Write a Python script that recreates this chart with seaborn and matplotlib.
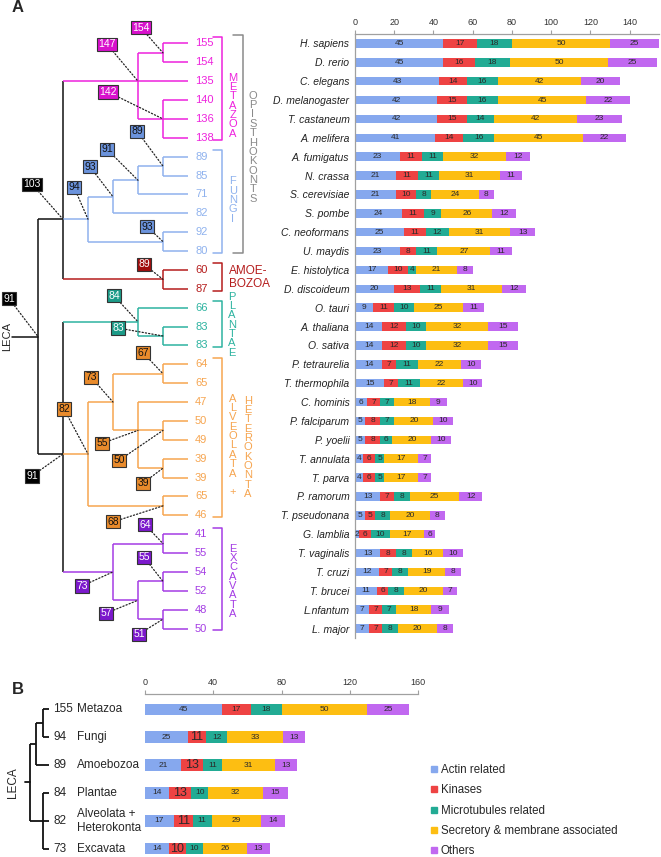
import numpy as np
import pandas as pd
import seaborn as sns
import matplotlib.pyplot as plt
from matplotlib.lines import Line2D

# ---- panel A data ----
species = ["H. sapiens", "D. rerio", "C. elegans", "D. melanogaster", "T. castaneum", "A. melifera",
           "A. fumigatus", "N. crassa", "S. cerevisiae", "S. pombe", "C. neoformans", "U. maydis",
           "E. histolytica", "D. discoideum", "O. tauri", "A. thaliana", "O. sativa",
           "P. tetraurelia", "T. thermophila", "C. hominis", "P. falciparum", "P. yoelii",
           "T. annulata", "T. parva", "P. ramorum", "T. pseudonana",
           "G. lamblia", "T. vaginalis", "T. cruzi", "T. brucei", "L.nfantum", "L. major"]
actin = [45, 45, 43, 42, 42, 41, 23, 21, 21, 24, 25, 23, 17, 20, 9, 14, 14,
         14, 15, 6, 5, 5, 4, 4, 13, 5, 2, 13, 12, 11, 7, 7]
kinases = [17, 16, 14, 15, 15, 14, 11, 11, 10, 11, 11, 8, 10, 13, 11, 12, 12,
           7, 7, 7, 8, 8, 6, 6, 7, 5, 6, 8, 7, 6, 7, 7]
microtubules = [18, 18, 16, 16, 14, 16, 11, 11, 8, 9, 12, 11, 4, 11, 10, 10, 10,
                11, 11, 7, 7, 6, 5, 5, 8, 8, 10, 8, 8, 8, 7, 8]
secretory = [50, 50, 42, 45, 42, 45, 32, 31, 24, 26, 31, 27, 21, 31, 25, 32, 32,
             22, 22, 18, 20, 20, 17, 17, 25, 20, 17, 16, 19, 20, 18, 20]
others = [25, 25, 20, 22, 23, 22, 12, 11, 8, 12, 13, 11, 8, 12, 11, 15, 15,
          10, 10, 9, 10, 10, 7, 7, 12, 8, 6, 10, 8, 7, 9, 8]

# ---- panel B data ----
groups = ["Metazoa", "Fungi", "Amoebozoa", "Plantae", "Alveolata +\nHeterokonta", "Excavata"]
g_actin = [45, 25, 21, 14, 17, 14]
g_kinases = [17, 11, 13, 13, 11, 10]
g_micro = [18, 12, 11, 10, 11, 10]
g_secretory = [50, 33, 31, 32, 29, 26]
g_others = [25, 13, 13, 15, 14, 13]

categories = ["Actin related", "Kinases", "Microtubules related",
              "Secretory & membrane associated", "Others"]
cat_colors = ["#86a8ee", "#ee4343", "#22ab94", "#fdbe12", "#c168f0"]

# tree: (node value, clade, children); integers are rows of `species`
tree_a = (91, None, [
    (103, None, [
        (147, "Metazoa", [(154, "Metazoa", [0, 1]), 2, (142, "Metazoa", [3, 4, 5])]),
        (94, "Fungi", [(93, "Fungi", [(91, "Fungi", [(89, "Fungi", [6, 7]), 8]), 9]),
                       (93, "Fungi", [10, 11])]),
        (89, "Amoebozoa", [12, 13]),
    ]),
    (91, None, [
        (84, "Plantae", [14, (83, "Plantae", [15, 16])]),
        (82, "Alveolata", [(73, "Alveolata", [(67, "Alveolata", [17, 18]),
                                               (55, "Alveolata", [19, (50, "Alveolata", [20, 21]),
                                                                  (39, "Alveolata", [22, 23])])]),
                           (68, "Alveolata", [24, 25])]),
        (73, "Excavata", [(64, "Excavata", [26, 27]),
                          (57, "Excavata", [(55, "Excavata", [28, 29]), (51, "Excavata", [30, 31])])]),
    ]),
])
tree_b = (None, None, [(None, None, [(None, None, [0, 1]), 2]), (None, None, [3, 4, 5])])

clade_rows = {"Metazoa": (0, 5), "Fungi": (6, 11), "Amoebozoa": (12, 13), "Plantae": (14, 16),
              "Alveolata": (17, 25), "Excavata": (26, 31)}
line_col = {"Metazoa": "#ee22dd", "Fungi": "#8fb2ee", "Amoebozoa": "#b51d1d", "Plantae": "#2db3a0",
            "Alveolata": "#f6a550", "Excavata": "#a43ce4", None: "#111111"}
box_col = {"Metazoa": ("#d811cc", "white"), "Fungi": ("#6b93dc", "#111"), "Amoebozoa": ("#a00d0d", "white"),
           "Plantae": ("#1c9b88", "white"), "Alveolata": ("#e98b2c", "#111"), "Excavata": ("#7c19cc", "white"),
           None: ("#000000", "white")}
# pixel offsets of the value boxes, preorder
box_offsets = [(-29, -38), (-31, -35), (-31, -37), (-22, -25), (-55, -27), (-14, -32), (-23, -30),
               (-31, -31), (-26, -35), (-16, -15), (-19, -15), (-31, 22), (-24, -26), (-45, -8),
               (-24, -45), (-22, -25), (-20, -21), (-36, 13), (-44, 30), (-20, 15), (-50, 16),
               (-31, 14), (-18, -19), (-32, 13), (-19, -24), (-24, 15)]

sns.set_style("white")
plt.rcParams["font.family"] = ["Liberation Sans", "DejaVu Sans"]

W, H = 661, 857
fig = plt.figure(figsize=(W / 100, H / 100), dpi=100)


def rect(x0, y0, x1, y1):
    return [x0 / W, 1 - y1 / H, (x1 - x0) / W, (y1 - y0) / H]


def stacked(ax, names, cols, width, fs, big_kinase=None):
    df = pd.DataFrame(dict(zip(categories, cols)))
    cum = df.cumsum(axis=1)
    for c, col in reversed(list(zip(categories, cat_colors))):
        sns.barplot(x=cum[c].values, y=names, color=col, orient="h", width=width,
                    saturation=1, linewidth=0, errorbar=None, ax=ax)
    for i in range(len(df)):
        for k, c in enumerate(categories):
            v = df[c].iloc[i]
            size = fs
            if big_kinase is not None and k == 1 and big_kinase[i]:
                size = fs + 3
            ax.text(cum[c].iloc[i] - v / 2, i, str(v), ha="center", va="center",
                    fontsize=size, color="#2a2a2a")
    ax.set_xlabel("")
    ax.set_ylabel("")
    ax.xaxis.tick_top()
    for s in ["right", "bottom"]:
        ax.spines[s].set_visible(False)
    for s in ["top", "left"]:
        ax.spines[s].set_color("#a0a0a0")
        ax.spines[s].set_linewidth(0.9)
    ax.tick_params(axis="x", which="major", length=3, color="#a0a0a0", labelsize=6.5,
                   labelcolor="#333", pad=2)
    return df


def place(node):
    if isinstance(node, int):
        return dict(y=node, h=0, kids=[], leaf=True)
    val, clade, children = node
    kids = [place(c) for c in children]
    ys = sorted(k["y"] for k in kids)
    y = ys[len(ys) // 2] if len(ys) % 2 else np.mean([ys[0], ys[-1]])
    return dict(y=y, h=1 + max(k["h"] for k in kids), kids=kids, val=val, clade=clade, leaf=False)


def draw_tree(ax, n, tip, step, lw, out, parent_clade=None):
    x = tip - step * n["h"]
    clade = n["clade"]
    col = line_col[clade]
    ys = [k["y"] for k in n["kids"]]
    out.append((x, n["y"], n["val"], clade))
    ax.plot([x, x], [min(ys), max(ys)], color=col, lw=lw, solid_capstyle="butt")
    for k in n["kids"]:
        kx = tip - step * k["h"]
        kcol = col if k["leaf"] else line_col[k["clade"]]
        ax.plot([x, kx], [k["y"], k["y"]], color=kcol, lw=lw, solid_capstyle="butt")
        if not k["leaf"]:
            draw_tree(ax, k, tip, step, lw, out)


# ================= panel A =================
axA = fig.add_axes(rect(355, 34, 659, 638))
dfA = stacked(axA, species, [actin, kinases, microtubules, secretory, others], 0.45, 6)
axA.set_xlim(0, 155)
axA.set_xticks(range(0, 141, 20))
axA.set_yticks(range(len(species)))
axA.set_yticks(np.arange(-0.5, len(species)), minor=True)
axA.tick_params(axis="y", which="major", length=0, labelsize=7.5, labelcolor="#222", pad=4)
axA.tick_params(axis="y", which="minor", length=3, color="#a0a0a0", width=0.9)
for lbl in axA.get_yticklabels():
    lbl.set_style("italic")
axA.set_ylim(len(species) - 0.5, -0.5)

tA = fig.add_axes(rect(0, 34, 355, 638))
tA.set_xlim(0, 355)
tA.set_ylim(len(species) - 0.5, -0.5)
tA.axis("off")
rootA = place(tree_a)
nodes = []
draw_tree(tA, rootA, 188, 25, 1.1, nodes)
rx = 188 - 25 * rootA["h"]
tA.plot([12, rx], [rootA["y"], rootA["y"]], color="#111", lw=1.1)
tA.text(7, rootA["y"], "LECA", rotation=90, ha="center", va="center", fontsize=8)

for (x, y, val, clade), (dx, dy) in zip(nodes, box_offsets):
    fc, tc = box_col[clade]
    tA.annotate(str(val), xy=(x, y), xytext=(dx, -dy), textcoords="offset pixels",
                ha="center", va="center", fontsize=7.5, color=tc, zorder=6,
                bbox=dict(boxstyle="square,pad=0.15", fc=fc, ec="#333", lw=0.8),
                arrowprops=dict(arrowstyle="-", linestyle=":", lw=0.9, color="#222",
                                shrinkA=0, shrinkB=0),
                annotation_clip=False)

totals = dfA.sum(axis=1).values
for clade, (r0, r1) in clade_rows.items():
    c = line_col[clade]
    for r in range(r0, r1 + 1):
        tA.text(195, r, str(totals[r]), ha="left", va="center", fontsize=8, color=c)
    tA.plot([213, 222, 222, 213], [r0 - 0.35, r0 - 0.35, r1 + 0.1, r1 + 0.1], color=c, lw=1.1)
tA.plot([233, 243, 243, 233], [-0.45, -0.45, 11.1, 11.1], color="#8a8a8a", lw=1.1)

vlabels = [("METAZOA", 233, 3.3, line_col["Metazoa"]),
           ("OPISTHOKONTS", 253, 5.5, "#8a8a8a"),
           ("FUNGI", 233, 8.3, line_col["Fungi"]),
           ("PLANTAE", 232, 14.9, line_col["Plantae"]),
           ("ALVEOLATA +", 233, 21.3, line_col["Alveolata"]),
           ("HETEROKONTA", 248, 21.4, line_col["Alveolata"]),
           ("EXCAVATA", 233, 28.5, line_col["Excavata"])]
for txt, x, y, c in vlabels:
    tA.text(x, y, "\n".join(txt), ha="center", va="center", fontsize=8, color=c,
            linespacing=0.92)
tA.text(229, 12.4, "AMOE-\nBOZOA", ha="left", va="center", fontsize=8.5,
        color=line_col["Amoebozoa"], linespacing=1.05)

# ================= panel B =================
axB = fig.add_axes(rect(145, 694, 418, 857))
stacked(axB, groups, [g_actin, g_kinases, g_micro, g_secretory, g_others], 0.4, 6,
        big_kinase=[g != "Metazoa" for g in groups])
axB.set_xlim(0, 160)
axB.set_xticks(range(0, 161, 40))
axB.set_yticks([])
axB.spines["left"].set_visible(False)
axB.set_ylim(5.29, -0.54)

tB = fig.add_axes(rect(0, 694, 145, 857))
tB.set_xlim(0, 145)
tB.set_ylim(5.29, -0.54)
tB.axis("off")
rootB = place(tree_b)
draw_tree(tB, rootB, 49, 6.5, 1.3, [])
rbx = 49 - 6.5 * rootB["h"]
tB.plot([25, rbx], [rootB["y"], rootB["y"]], color="#111", lw=1.3)
tB.text(13, rootB["y"], "LECA", rotation=90, ha="center", va="center", fontsize=8.5)
g_totals = np.sum([g_actin, g_kinases, g_micro, g_secretory, g_others], axis=0)
for i, g in enumerate(groups):
    tB.text(53, i, str(g_totals[i]), ha="left", va="center", fontsize=8.5)
    tB.text(77, i, g, ha="left", va="center", fontsize=8.5, linespacing=1.15)

handles = [Line2D([], [], marker="s", ls="", color=c, markersize=4.5) for c in cat_colors]
fig.legend(handles, categories, loc="upper left", bbox_to_anchor=(431 / W, 1 - 764 / H),
           frameon=False, fontsize=8.3, handlelength=0.6, handletextpad=0.25,
           labelspacing=0.72, borderaxespad=0, borderpad=0)

fig.text(12 / W, 1 - 8 / H, "A", fontsize=12, fontweight="bold", va="center", ha="left")
fig.text(12 / W, 1 - 690 / H, "B", fontsize=12, fontweight="bold", va="center", ha="left")

fig.savefig("out.png", dpi=100)
